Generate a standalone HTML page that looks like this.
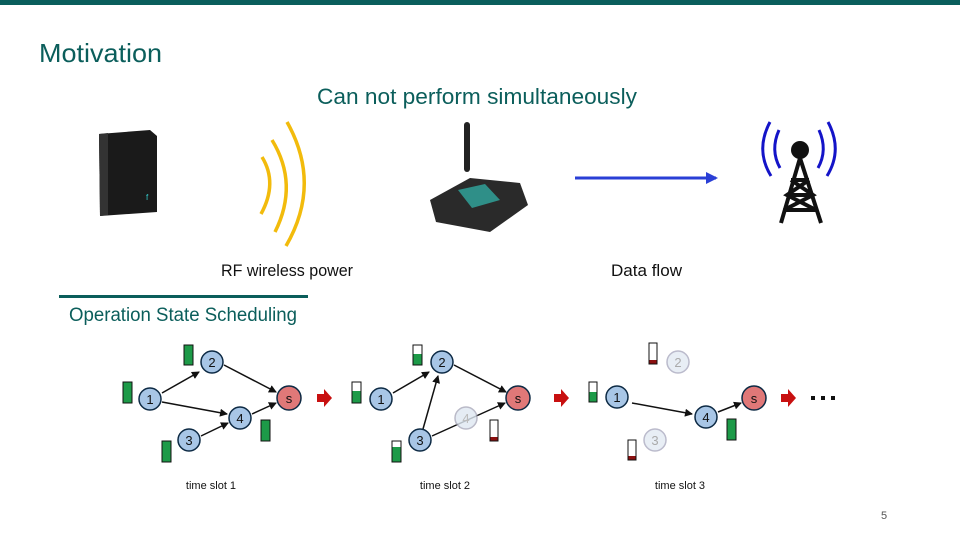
<!DOCTYPE html>
<html><head><meta charset="utf-8"><style>body{margin:0;background:#fff}svg{display:block}</style></head><body>
<svg width="960" height="540" viewBox="0 0 960 540" xmlns="http://www.w3.org/2000/svg" font-family="Liberation Sans, sans-serif">
<defs>
<marker id="ah" markerWidth="8" markerHeight="8" refX="7" refY="4" orient="auto" markerUnits="userSpaceOnUse"><path d="M0,0 L8,4 L0,8 z" fill="#111"/></marker>
<marker id="bh" markerWidth="12" markerHeight="12" refX="10" refY="6" orient="auto" markerUnits="userSpaceOnUse"><path d="M0,0 L12,6 L0,12 z" fill="#2a3fd6"/></marker>
</defs>
<rect x="0" y="0" width="960" height="5" fill="#0a5e5c"/>
<text x="39" y="62" font-size="26" fill="#0b5e5b" textLength="123" lengthAdjust="spacingAndGlyphs">Motivation</text>
<text x="317" y="104" font-size="22" fill="#0b5e5b" textLength="320" lengthAdjust="spacingAndGlyphs">Can not perform simultaneously</text>
<!-- router box -->
<path d="M99,134 L150,130 L157,136 L157,212 L100,216 Z" fill="#1a1a1a"/>
<path d="M99,134 L108,133 L108,215 L100,216 Z" fill="#333"/>
<text x="146" y="200" font-size="8" fill="#3cc">f</text>
<!-- yellow arcs -->
<g fill="none" stroke="#f2bb0c" stroke-width="3.5">
<path d="M262,157 Q278,183 261,214"/>
<path d="M272,140 Q299,184 275,232"/>
<path d="M287,122 Q322,184 286,246"/>
</g>
<!-- board -->
<rect x="464" y="122" width="6" height="50" rx="3" fill="#222"/>
<path d="M430,200 L470,178 L520,183 L528,205 L490,232 L436,222 Z" fill="#2a2a2a"/>
<path d="M458,190 L485,184 L500,200 L472,208 Z" fill="#2f8f88"/>
<!-- blue arrow -->
<line x1="575" y1="178" x2="716" y2="178" stroke="#2a3fd6" stroke-width="3" marker-end="url(#bh)"/>
<!-- tower -->
<g fill="none" stroke="#1414c8" stroke-width="3">
<path d="M779,130 Q770,150 780,168"/><path d="M770,122 Q755,150 771,176"/>
<path d="M819,130 Q828,150 818,168"/><path d="M828,122 Q843,150 827,176"/>
</g>
<circle cx="800" cy="150" r="9" fill="#111"/>
<g stroke="#111" stroke-width="4" fill="none">
<path d="M800,158 L781,223 M800,158 L821,223"/>
<path d="M791,180 L809,180 M787,195 L813,195 M784,210 L816,210 M791,180 L813,195 L784,210 M809,180 L787,195 L816,210"/>
</g>
<text x="221" y="276" font-size="17" fill="#111" textLength="132" lengthAdjust="spacingAndGlyphs">RF wireless power</text>
<text x="611" y="276" font-size="17" fill="#111" textLength="71" lengthAdjust="spacingAndGlyphs">Data flow</text>
<rect x="59" y="295" width="249" height="3" fill="#0b5e5b"/>
<text x="69" y="321" font-size="19" fill="#0b5e5b" textLength="228" lengthAdjust="spacingAndGlyphs">Operation State Scheduling</text>

<g font-size="13" text-anchor="middle" stroke-width="1.5">
<!-- slot 1 -->
<g stroke="#111" marker-end="url(#ah)">
<line x1="162" y1="393" x2="199" y2="372"/>
<line x1="224" y1="365" x2="276" y2="392"/>
<line x1="162" y1="402" x2="227" y2="414"/>
<line x1="252" y1="414" x2="276" y2="403"/>
<line x1="201" y1="436" x2="228" y2="423"/>
</g>
<g stroke="#0d2a44"><circle cx="150" cy="399" r="11" fill="#a8c6e6"/><circle cx="212" cy="362" r="11" fill="#a8c6e6"/><circle cx="240" cy="418" r="11" fill="#a8c6e6"/><circle cx="189" cy="440" r="11" fill="#a8c6e6"/><circle cx="289" cy="398" r="12" fill="#e07878"/></g>
<g fill="#111"><text x="150" y="404">1</text><text x="212" y="367">2</text><text x="240" y="423">4</text><text x="189" y="445">3</text><text x="289" y="403">s</text></g>
<g fill="#1d9a48" stroke="#111" stroke-width="1"><rect x="123" y="382" width="9" height="21"/><rect x="184" y="345" width="9" height="20"/><rect x="162" y="441" width="9" height="21"/><rect x="261" y="420" width="9" height="21"/></g>
<path d="M317,394 L324,394 L324,389 L332,398 L324,407 L324,402 L317,402 Z" fill="#c81010"/>
<text x="211" y="489" font-size="11" fill="#111">time slot 1</text>
<!-- slot 2 -->
<g stroke="#111" marker-end="url(#ah)">
<line x1="393" y1="393" x2="429" y2="372"/>
<line x1="454" y1="365" x2="506" y2="392"/>
<line x1="423" y1="429" x2="438" y2="376"/>
<line x1="432" y1="436" x2="505" y2="403"/>
</g>
<circle cx="466" cy="418" r="11" fill="#dfe8f2" stroke="#aab" opacity="0.8"/>
<text x="466" y="423" fill="#bbb">4</text>
<g stroke="#0d2a44"><circle cx="381" cy="399" r="11" fill="#a8c6e6"/><circle cx="442" cy="362" r="11" fill="#a8c6e6"/><circle cx="420" cy="440" r="11" fill="#a8c6e6"/><circle cx="518" cy="398" r="12" fill="#e07878"/></g>
<g fill="#111"><text x="381" y="404">1</text><text x="442" y="367">2</text><text x="420" y="445">3</text><text x="518" y="403">s</text></g>
<g stroke="#111" stroke-width="1" fill="#fff"><rect x="352" y="382" width="9" height="21"/><rect x="413" y="345" width="9" height="20"/><rect x="392" y="441" width="9" height="21"/><rect x="490" y="420" width="8" height="21"/></g>
<g fill="#1d9a48"><rect x="352.5" y="391" width="8" height="11.5"/><rect x="413.5" y="354" width="8" height="10.5"/><rect x="392.5" y="447" width="8" height="14.5"/></g>
<rect x="490.5" y="437" width="7" height="3.5" fill="#8b1010"/>
<path d="M554,394 L561,394 L561,389 L569,398 L561,407 L561,402 L554,402 Z" fill="#c81010"/>
<text x="445" y="489" font-size="11" fill="#111">time slot 2</text>
<!-- slot 3 -->
<g stroke="#111" marker-end="url(#ah)">
<line x1="632" y1="403" x2="692" y2="414"/>
<line x1="718" y1="412" x2="741" y2="403"/>
</g>
<circle cx="678" cy="362" r="11" fill="#e8eef5" stroke="#bbc"/><text x="678" y="367" fill="#aaa">2</text>
<circle cx="655" cy="440" r="11" fill="#e8eef5" stroke="#bbc"/><text x="655" y="445" fill="#aaa">3</text>
<g stroke="#0d2a44"><circle cx="617" cy="397" r="11" fill="#a8c6e6"/><circle cx="706" cy="417" r="11" fill="#a8c6e6"/><circle cx="754" cy="398" r="12" fill="#e07878"/></g>
<g fill="#111"><text x="617" y="402">1</text><text x="706" y="422">4</text><text x="754" y="403">s</text></g>
<g stroke="#111" stroke-width="1" fill="#fff"><rect x="589" y="382" width="8" height="20"/><rect x="649" y="343" width="8" height="21"/><rect x="628" y="440" width="8" height="20"/></g>
<rect x="589.5" y="392" width="7" height="9.5" fill="#1d9a48"/>
<rect x="649.5" y="360" width="7" height="3.5" fill="#8b1010"/><rect x="628.5" y="456" width="7" height="3.5" fill="#8b1010"/>
<rect x="727" y="419" width="9" height="21" fill="#1d9a48" stroke="#111" stroke-width="1"/>
<path d="M781,394 L788,394 L788,389 L796,398 L788,407 L788,402 L781,402 Z" fill="#c81010"/>
<g fill="#111"><rect x="811" y="396" width="4" height="4"/><rect x="821" y="396" width="4" height="4"/><rect x="831" y="396" width="4" height="4"/></g>
<text x="680" y="489" font-size="11" fill="#111">time slot 3</text>
</g>
<text x="884" y="519" font-size="11" fill="#555" text-anchor="middle">5</text>
</svg>
</body></html>
